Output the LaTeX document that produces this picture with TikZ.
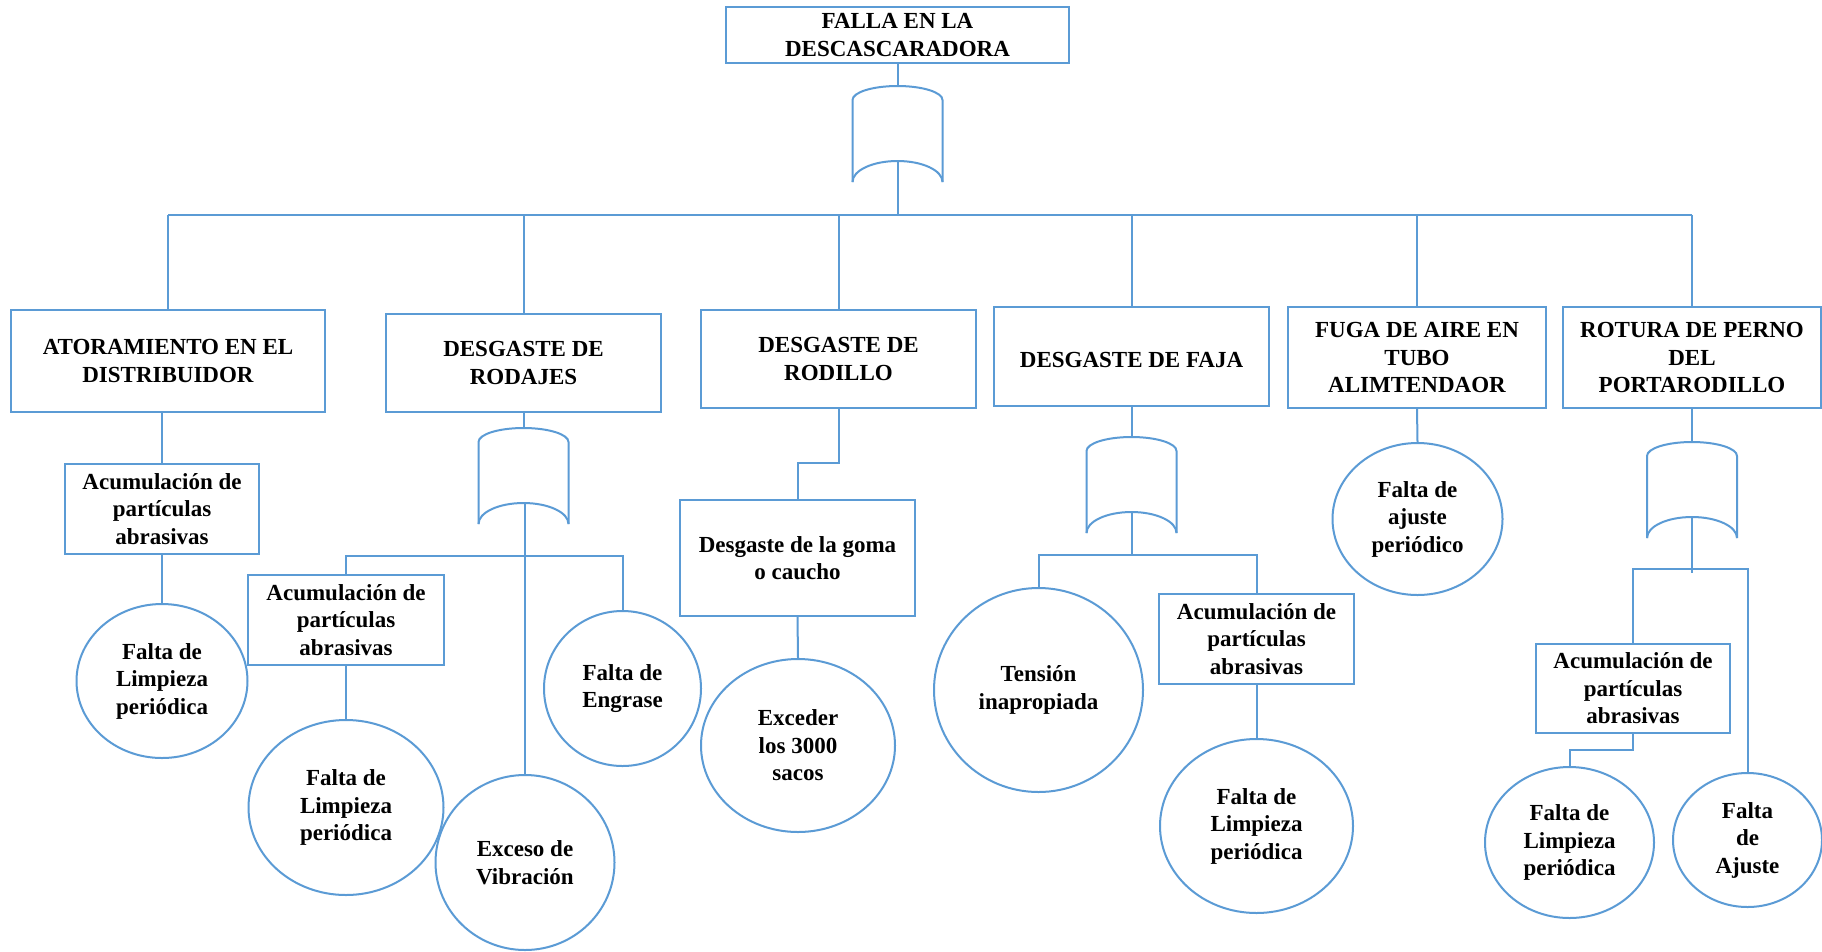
\documentclass[tikz,border=0pt]{standalone}
\usepackage{fontspec}
\setmainfont{Liberation Serif}
\usetikzlibrary{shapes.geometric,calc}
\definecolor{linkblue}{RGB}{91,155,213}

\tikzset{
  lbl/.style={font=\bfseries\fontsize{23}{27.5}\selectfont, align=center, inner sep=0pt, text=black,
              execute at begin node={\rule{0pt}{22pt}}},
  boxnode/.style={lbl, draw=linkblue, line width=2pt, rectangle},
  ovalnode/.style={lbl, draw=linkblue, line width=2pt, ellipse},
  wire/.style={draw=linkblue, line width=2pt},
  % OR gate: peak of the input arc at the origin, output at the inner arc peak
  orgate/.pic={
    \draw[wire] (-45,96) -- (-45,14) .. controls (-45,6.27) and (-24.85,0) .. (0,0)
                .. controls (24.85,0) and (45,6.27) .. (45,14) -- (45,96);
    \draw[wire] (-45,96) .. controls (-45,84.4) and (-24.85,75) .. (0,75)
                .. controls (24.85,75) and (45,84.4) .. (45,96);
    \coordinate (-in) at (0,0);
    \coordinate (-out) at (0,75);
  }
}

\begin{document}
\begin{tikzpicture}[x=1pt,y=-1pt]
\fill[white] (0,0) rectangle (1822,951);
\useasboundingbox (0,0) rectangle (1822,951);

% top event
\node[boxnode, minimum width=343, minimum height=56] (top) at (897.5,35) {FALLA EN LA\\DESCASCARADORA};
\pic (g0) at (897.5,86) {orgate};

% first level
\node[boxnode, minimum width=314, minimum height=102] (b1) at (168,361) {ATORAMIENTO EN EL\\DISTRIBUIDOR};
\node[boxnode, minimum width=275, minimum height=98] (b2) at (523.5,363) {DESGASTE DE\\RODAJES};
\node[boxnode, minimum width=275, minimum height=98] (b3) at (838.5,359) {DESGASTE DE\\RODILLO};
\node[boxnode, minimum width=275, minimum height=99] (b4) at (1131.5,356.5) {DESGASTE DE FAJA};
\node[boxnode, minimum width=258, minimum height=101] (b5) at (1417,357.5) {FUGA DE AIRE EN\\TUBO\\ALIMTENDAOR};
\node[boxnode, minimum width=258, minimum height=101] (b6) at (1692,357.5) {ROTURA DE PERNO\\DEL\\PORTARODILLO};

% branch 1
\node[boxnode, minimum width=194, minimum height=90] (acum1) at (162,509) {Acumulación de\\partículas\\abrasivas};
\node[ovalnode, minimum width=171, minimum height=154] (limp1) at (162,681) {Falta de\\Limpieza\\periódica};

% branch 2
\pic (g2) at (523.5,428) {orgate};
\node[boxnode, minimum width=196, minimum height=90] (acum2) at (346,620) {Acumulación de\\partículas\\abrasivas};
\node[ovalnode, minimum width=195, minimum height=175] (limp2) at (346,807.5) {Falta de\\Limpieza\\periódica};
\node[ovalnode, minimum width=179, minimum height=175] (exceso) at (525,862.5) {Exceso de\\Vibración};
\node[ovalnode, minimum width=157, minimum height=155] (engrase) at (622.5,688.5) {Falta de\\Engrase};
\coordinate (bar2) at (0,556);

% branch 3
\node[boxnode, minimum width=235, minimum height=116] (goma) at (797.5,558) {Desgaste de la goma\\o caucho};
\node[ovalnode, minimum width=194, minimum height=173] (exceder) at (798,745.5) {Exceder\\los 3000\\sacos};

% branch 4
\pic (g4) at (1131.5,437) {orgate};
\node[ovalnode, minimum width=209, minimum height=204] (tension) at (1038.5,690) {Tensión\\inapropiada};
\node[boxnode, minimum width=195, minimum height=90] (acum4) at (1256.5,639) {Acumulación de\\partículas\\abrasivas};
\node[ovalnode, minimum width=193, minimum height=174] (limp4) at (1256.5,826) {Falta de\\Limpieza\\periódica};
\coordinate (bar4) at (0,555);

% branch 5
\node[ovalnode, minimum width=170, minimum height=152] (ajus5) at (1417.5,519) {Falta de\\ajuste\\periódico};

% branch 6
\pic (g6) at (1692,442) {orgate};
\node[boxnode, minimum width=194, minimum height=89] (acum6) at (1633,688.5) {Acumulación de\\partículas\\abrasivas};
\node[ovalnode, minimum width=169, minimum height=151] (limp6) at (1569.5,842.5) {Falta de\\Limpieza\\periódica};
\node[ovalnode, minimum width=149, minimum height=134] (ajuste6) at (1747.5,840) {Falta\\de\\Ajuste};
\coordinate (bar6) at (0,569);

% connectors: top gate and bus
\coordinate (busL) at (168,215);
\coordinate (busR) at (1692,215);
\draw[wire] (top.south) -- (g0-in);
\draw[wire] (g0-out) -- (g0-out |- busL);
\draw[wire] (busL) -- (busR);
\foreach \b in {b1,b2,b3,b4,b5,b6}
  \draw[wire] (\b.north |- busL) -- (\b.north);

% branch 1
\draw[wire] (b1.south -| acum1.north) -- (acum1.north);
\draw[wire] (acum1.south) -- (limp1.north);

% branch 2
\draw[wire] (b2.south) -- (g2-in);
\draw[wire] (g2-out -| exceso.north) -- (exceso.north);
\draw[wire] (acum2.north) -- (acum2.north |- bar2) -- (engrase.north |- bar2) -- (engrase.north);
\draw[wire] (acum2.south) -- (limp2.north);

% branch 3
\draw[wire] (b3.south) -- ++(0,54) -| (goma.north);
\draw[wire] (goma.south) -- (exceder.north);

% branch 4
\draw[wire] (b4.south) -- (g4-in);
\draw[wire] (g4-out) -- (g4-out |- bar4);
\draw[wire] (tension.north) -- (tension.north |- bar4) -- (acum4.north |- bar4) -- (acum4.north);
\draw[wire] (acum4.south) -- (limp4.north);

% branch 5
\draw[wire] (b5.south) -- (ajus5.north);

% branch 6
\draw[wire] (b6.south) -- (g6-in);
\draw[wire] (g6-out) -- ++(0,56);
\draw[wire] (acum6.north) -- (acum6.north |- bar6) -- (ajuste6.north |- bar6) -- (ajuste6.north);
\draw[wire] (acum6.south) -- ++(0,16) -| (limp6.north);
\end{tikzpicture}
\end{document}
